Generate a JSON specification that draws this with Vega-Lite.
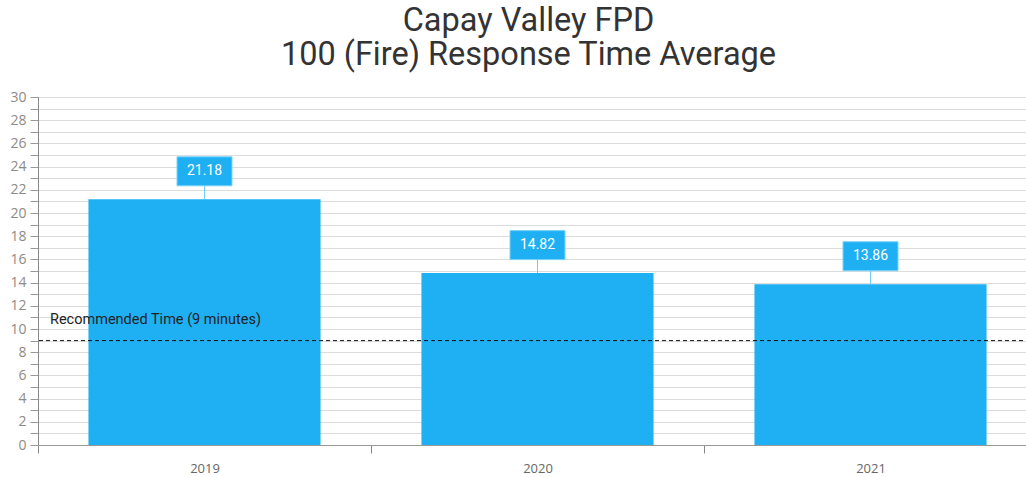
{
  "$schema": "https://vega.github.io/schema/vega-lite/v6.json",
  "autosize": "none",
  "width": 999,
  "height": 348,
  "padding": {"left": 38, "top": 97, "right": 0, "bottom": 32},
  "background": "white",
  "title": {
    "text": ["Capay Valley FPD", "100 (Fire) Response Time Average"],
    "anchor": "middle",
    "frame": "group",
    "dx": -9,
    "offset": 19,
    "font": "Roboto",
    "fontSize": 32.5,
    "fontWeight": "normal",
    "lineHeight": 34,
    "color": "#333333"
  },
  "config": {"view": {"stroke": null}},
  "data": {"values": [
    {"year": "2019", "time": 21.18},
    {"year": "2020", "time": 14.82},
    {"year": "2021", "time": 13.86}
  ]},
  "encoding": {
    "x": {
      "field": "year", "type": "nominal",
      "scale": {"paddingInner": 0, "paddingOuter": 0},
      "axis": {
        "title": null, "labelAngle": 0, "tickBand": "extent",
        "labelFont": "Open Sans", "labelFontSize": 13, "labelColor": "#666666",
        "labelPadding": 9, "tickSize": 8, "tickColor": "#888888",
        "domainColor": "#999999", "grid": false
      }
    },
    "y": {
      "field": "time", "type": "quantitative",
      "scale": {"domain": [0, 30], "nice": false},
      "axis": {
        "title": null,
        "values": [0,1,2,3,4,5,6,7,8,9,10,11,12,13,14,15,16,17,18,19,20,21,22,23,24,25,26,27,28,29,30],
        "labelExpr": "datum.value % 2 == 0 ? datum.label : ''",
        "labelFont": "Open Sans", "labelFontSize": 14, "labelColor": "#8f8a86",
        "labelPadding": 4, "tickSize": 8, "tickColor": "#999999",
        "domainColor": "#888888", "gridColor": "#dcdcdc", "gridWidth": 1
      }
    }
  },
  "layer": [
    {
      "mark": {"type": "bar", "color": "#1fb0f3", "width": {"band": 0.697}}
    },
    {
      "mark": {"type": "rule", "color": "#6fcdf7", "strokeWidth": 1, "y2Offset": -14},
      "encoding": {
        "y2": {"field": "time"}
      }
    },
    {
      "mark": {
        "type": "point", "filled": true, "opacity": 1,
        "shape": "M-1,-0.527H1V0.527H-1Z",
        "size": 3025, "fill": "#1fb0f3", "stroke": "#7ad2f8", "strokeWidth": 1,
        "yOffset": -28
      }
    },
    {
      "mark": {
        "type": "text", "color": "white", "font": "Roboto", "fontSize": 14,
        "baseline": "middle", "yOffset": -28
      },
      "encoding": {
        "text": {"field": "time", "type": "quantitative", "format": ".2f"}
      }
    },
    {
      "data": {"values": [{"time": 9, "label": "Recommended Time (9 minutes)"}]},
      "layer": [
        {
          "mark": {"type": "rule", "color": "#111111", "strokeWidth": 1, "strokeDash": [4, 3]},
          "encoding": {
            "x": null
          }
        },
        {
          "mark": {
            "type": "text", "align": "left", "baseline": "middle",
            "font": "Roboto", "fontSize": 14.5, "color": "#222222",
            "dx": 12, "dy": -21
          },
          "encoding": {
            "x": {"datum": "2019", "type": "nominal", "bandPosition": 0},
            "text": {"field": "label"}
          }
        }
      ]
    }
  ]
}
